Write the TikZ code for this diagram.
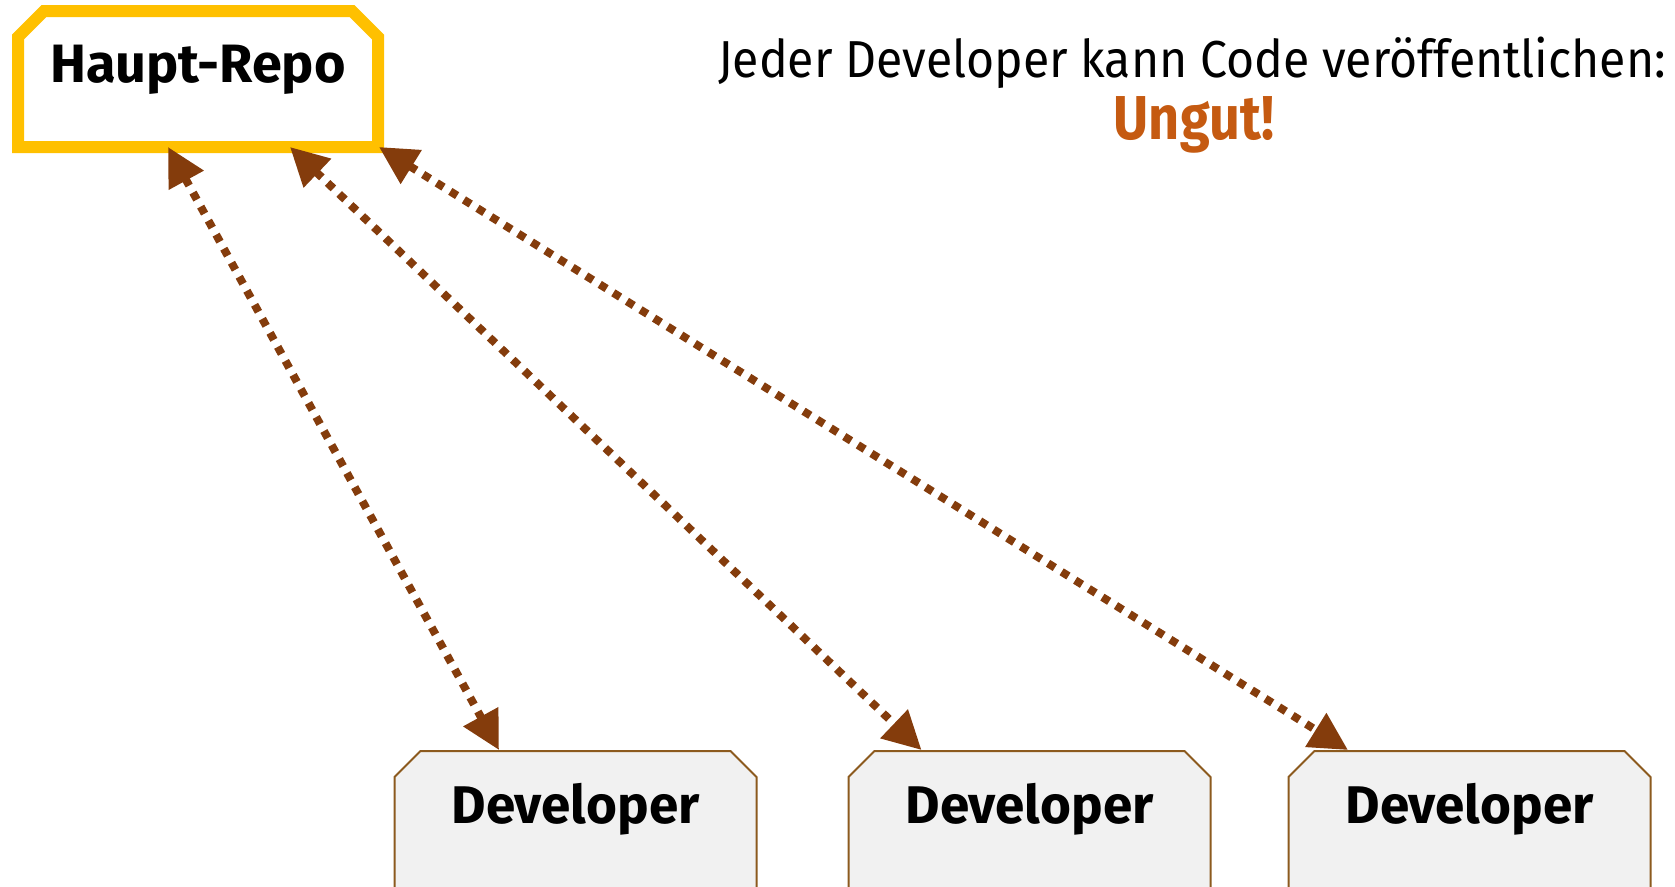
\documentclass[tikz,border=0pt]{standalone}
\usepackage{fontspec}
\setmainfont{Fira Sans}
\usetikzlibrary{shapes.misc,arrows.meta,positioning}

\definecolor{repoyellow}{HTML}{FFC000}
\definecolor{devbrown}{HTML}{8C5A1E}
\definecolor{devgray}{HTML}{F1F1F1}
\definecolor{pushbrown}{HTML}{843C0C}
\definecolor{badorange}{HTML}{C55A11}

\tikzset{
  repo/.style={chamfered rectangle, chamfered rectangle corners={north west,north east},
    chamfered rectangle xsep=13pt, chamfered rectangle ysep=13pt,
    draw=repoyellow, line width=12pt, fill=white, outer sep=0pt, inner sep=0pt,
    minimum width=360pt, text height=58pt, text depth=52pt,
    font=\fontsize{54}{58}\selectfont\bfseries},
  dev/.style={chamfered rectangle, chamfered rectangle corners={north west,north east},
    chamfered rectangle xsep=13pt, chamfered rectangle ysep=13pt,
    draw=devbrown, line width=2pt, fill=devgray, inner sep=0pt,
    minimum width=362pt, text height=59pt, text depth=64pt,
    font=\fontsize{53}{57}\selectfont\bfseries},
  push/.style={draw=pushbrown, line width=8pt, dash pattern=on 8pt off 8pt,
    {Triangle[length=38pt,width=38pt]}-{Triangle[length=38pt,width=38pt]}},
}

\begin{document}
\begin{tikzpicture}[x=1pt,y=-1pt]
  \useasboundingbox (0,0) rectangle (1675,886);

  % Boxes
  \node[repo] (repo) at (198,79) {Haupt-Repo};
  \node[dev] (dev1) at (575.5,825.5) {Developer};
  \node[dev, right=90pt of dev1] (dev2) {Developer};
  \node[dev, right=76pt of dev2] (dev3) {Developer};

  % Note
  \node[anchor=base, font=\fontsize{52}{56}\selectfont] (note) at (1192,77)
    {\scalebox{0.927}[1]{Jeder Developer kann Code veröffentlichen:}};
  \node[anchor=base, text=badorange, font=\fontsize{62}{66}\selectfont\bfseries] (verdict) at (1194,139)
    {\scalebox{0.87}[1]{Ungut!}};

  % Push/pull links
  \draw[push] ([xshift=-30pt]repo.south) -- ([xshift=-76.5pt]dev1.north);
  \draw[push] ([xshift=92pt]repo.south) -- ([xshift=-108pt]dev2.north);
  \draw[push] ([xshift=1pt]repo.south east) -- ([xshift=-121.5pt]dev3.north);
\end{tikzpicture}
\end{document}
